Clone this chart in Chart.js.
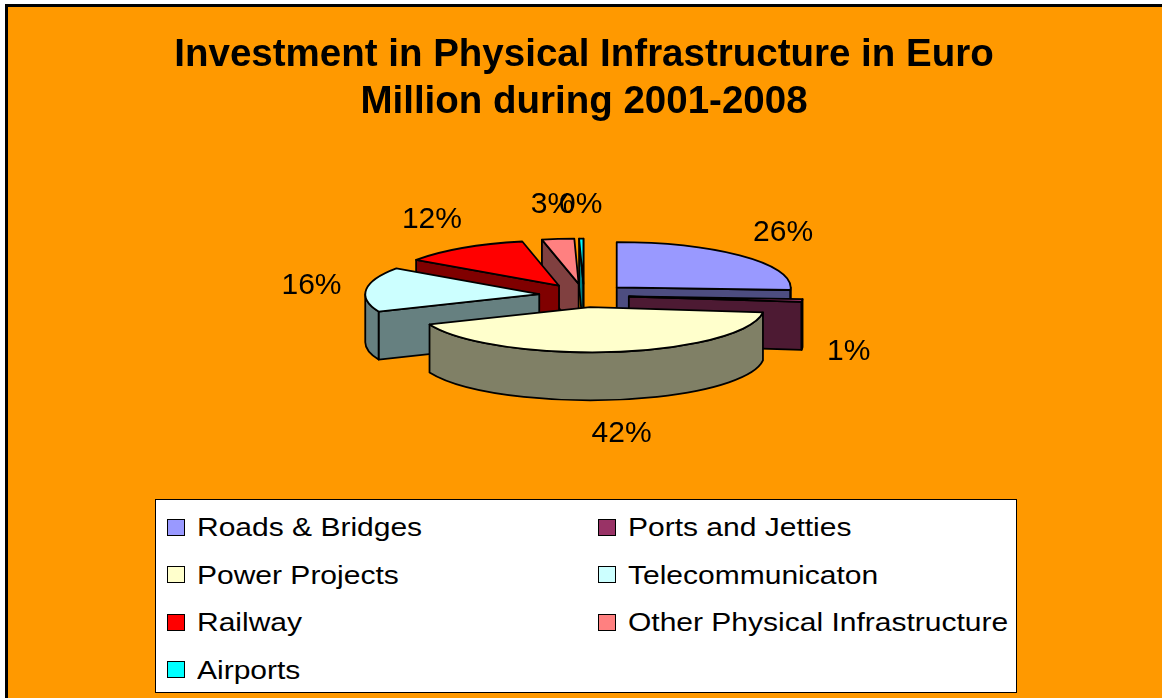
<!DOCTYPE html>
<html>
<head>
<meta charset="utf-8">
<title>Investment in Physical Infrastructure</title>
<script src="https://cdn.jsdelivr.net/npm/chart.js@4.4.1/dist/chart.umd.min.js"></script>
<style>
  html, body { margin: 0; padding: 0; background: #fff; }
  body { width: 1162px; height: 698px; position: relative; overflow: hidden; font-family: "Liberation Sans", Arial, sans-serif; }
  #frame { position: absolute; left: 5px; top: 4px; right: 0; bottom: 0; background: #FF9900; border-left: 3px solid #000; border-top: 3px solid #000; }
  #wrap { position: absolute; left: 0; top: 0; width: 1162px; height: 698px; }
  #legend { position: absolute; left: 155px; top: 499px; width: 860px; height: 192px; background: #fff; border: 1px solid #000; }
  .item { position: absolute; display: flex; align-items: center; height: 30px; }
  .swatch { width: 18px; height: 17px; border: 1px solid #000; box-sizing: border-box; flex: none; }
  .label { font-size: 25px; line-height: 30px; color: #000; white-space: nowrap; margin-left: 12px; transform: scaleX(1.2); transform-origin: left center; }
</style>
</head>
<body>
<div id="frame"></div>
<div id="wrap"><canvas id="pieChart"></canvas></div>
<div id="legend"></div>
<script>
  // Chart data (values read as shares of the total, in %)
  const categories = [
    "Roads & Bridges",
    "Ports and Jetties",
    "Power Projects",
    "Telecommunicaton",
    "Railway",
    "Other Physical Infrastructure",
    "Airports"
  ];
  const values = [26, 1, 42, 16, 12, 3, 0.4];
  const sliceColors = ["#9999FF", "#993366", "#FFFFCC", "#CCFFFF", "#FF0000", "#FF8080", "#00FFFF"];
  const titleLines = ["Investment in Physical Infrastructure in Euro", "Million during 2001-2008"];

  // darker colour for the sides of a slice
  function shade(hex) {
    const n = parseInt(hex.slice(1), 16);
    const r = (n >> 16) & 255, g = (n >> 8) & 255, b = n & 255;
    return "rgb(" + Math.round(r / 2) + "," + Math.round(g / 2) + "," + Math.round(b / 2) + ")";
  }

  function drawSlice(ctx, s, tilt, depth) {
    const a0 = s.start, a1 = s.end, ry = s.r * tilt;
    const pt = a => [s.cx + s.r * Math.cos(a), s.cy + ry * Math.sin(a)];

    function wall(a) {
      const [x, y] = pt(a);
      ctx.beginPath();
      ctx.moveTo(s.cx, s.cy);
      ctx.lineTo(x, y);
      ctx.lineTo(x, y + depth);
      ctx.lineTo(s.cx, s.cy + depth);
      ctx.closePath();
      ctx.fillStyle = s.side;
      ctx.fill();
      ctx.stroke();
    }

    if (Math.cos(a0) < 0) wall(a0);
    if (Math.cos(a1) > 0) wall(a1);

    // front curved wall (lower half of the ellipse)
    const lo = Math.max(a0, 0), hi = Math.min(a1, Math.PI);
    if (hi > lo) {
      ctx.beginPath();
      ctx.ellipse(s.cx, s.cy, s.r, ry, 0, lo, hi);
      ctx.ellipse(s.cx, s.cy + depth, s.r, ry, 0, hi, lo, true);
      ctx.closePath();
      ctx.fillStyle = s.side;
      ctx.fill();
      ctx.stroke();
    }

    // top face
    ctx.beginPath();
    ctx.moveTo(s.cx, s.cy);
    ctx.ellipse(s.cx, s.cy, s.r, ry, 0, a0, a1);
    ctx.closePath();
    ctx.fillStyle = s.top;
    ctx.fill();
    ctx.stroke();
  }

  // Draws the pie as an exploded 3D pie from the arc elements
  const pie3d = {
    id: "pie3d",
    beforeDatasetsDraw(chart, args, opts) {
      const ctx = chart.ctx;
      const meta = chart.getDatasetMeta(0);
      const ds = chart.data.datasets[0];
      const total = ds.data.reduce((a, b) => a + b, 0);
      const tilt = opts.tilt, depth = opts.depth;

      const slices = meta.data.map((arc, i) => {
        const p = arc.getProps(["x", "y", "startAngle", "endAngle", "outerRadius"], true);
        const mid = (p.startAngle + p.endAngle) / 2;
        const off = arc.options.offset || 0;
        return {
          i: i,
          x: p.x,
          y: p.y,
          start: p.startAngle,
          end: p.endAngle,
          mid: mid,
          r: p.outerRadius,
          cx: p.x + Math.cos(mid) * off,
          cy: p.y + Math.sin(mid) * off * tilt,
          top: ds.backgroundColor[i],
          side: shade(ds.backgroundColor[i])
        };
      });

      ctx.save();
      ctx.lineWidth = opts.lineWidth;
      ctx.strokeStyle = "#000";
      ctx.lineJoin = "round";

      // back slices first
      slices.slice().sort((a, b) => Math.sin(a.mid) - Math.sin(b.mid))
        .forEach(s => drawSlice(ctx, s, tilt, depth));

      // percentage labels
      ctx.font = opts.labelFont;
      ctx.fillStyle = "#000";
      ctx.textAlign = "center";
      ctx.textBaseline = "middle";
      slices.forEach(s => {
        const text = Math.round(ds.data[s.i] / total * 100) + "%";
        const w = ctx.measureText(text).width;
        const h = opts.labelHeight;
        const c = Math.cos(s.mid), sn = Math.sin(s.mid);
        const lx = s.x + opts.labelRx * c + c * w / 2;
        const ly = s.y + opts.labelRy * sn + sn * h / 2 + (sn > 0 ? depth : 0);
        ctx.fillText(text, lx, ly);
      });

      ctx.restore();
      return false;
    }
  };

  const chart = new Chart(document.getElementById("pieChart"), {
    type: "pie",
    data: {
      labels: categories,
      datasets: [{
        data: values,
        backgroundColor: sliceColors,
        offset: 45
      }]
    },
    options: {
      responsive: true,
      maintainAspectRatio: false,
      animation: false,
      radius: 174,
      layout: { padding: { left: 6, right: 0, top: 0, bottom: 243 } },
      plugins: {
        legend: { display: false },
        tooltip: { enabled: false },
        title: {
          display: true,
          text: titleLines,
          color: "#000",
          font: { family: "'Liberation Sans', Arial, sans-serif", size: 38.5, weight: "bold", lineHeight: 1.22 },
          padding: { top: 32, bottom: 10 }
        },
        pie3d: {
          tilt: 0.26,
          depth: 48,
          lineWidth: 1.8,
          labelRx: 244,
          labelRy: 76,
          labelHeight: 30,
          labelFont: "30px 'Liberation Sans', Arial, sans-serif"
        }
      }
    },
    plugins: [pie3d]
  });

  // legend in two columns, built from the chart's labels and colours
  const legendEl = document.getElementById("legend");
  chart.data.labels.forEach((label, i) => {
    const col = i % 2, row = Math.floor(i / 2);
    const item = document.createElement("div");
    item.className = "item";
    item.style.left = (col === 0 ? 11 : 442) + "px";
    item.style.top = (12 + row * 47.5) + "px";
    const sw = document.createElement("span");
    sw.className = "swatch";
    sw.style.background = chart.data.datasets[0].backgroundColor[i];
    const tx = document.createElement("span");
    tx.className = "label";
    tx.textContent = label;
    item.appendChild(sw);
    item.appendChild(tx);
    legendEl.appendChild(item);
  });
</script>
</body>
</html>
